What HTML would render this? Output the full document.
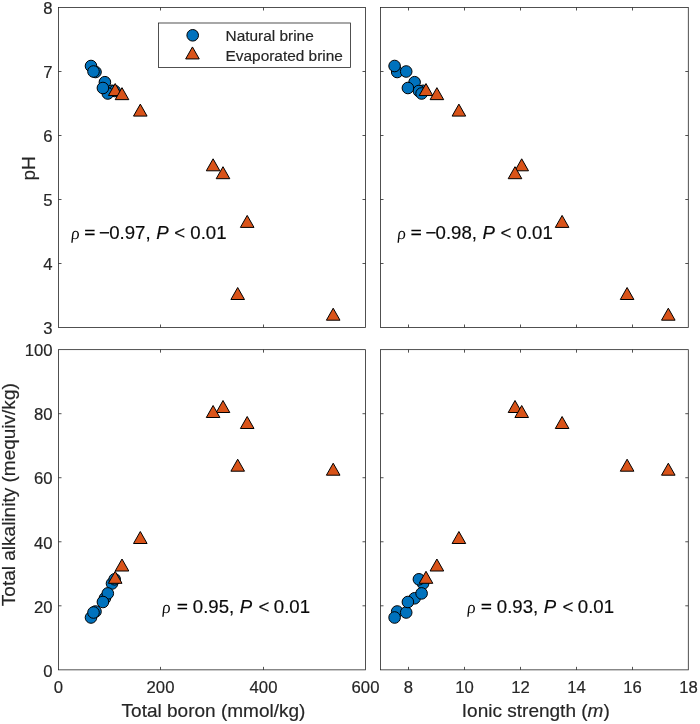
<!DOCTYPE html>
<html><head><meta charset="utf-8"><title>Figure</title>
<style>
html,body{margin:0;padding:0;background:#fff;}
body{width:700px;height:724px;overflow:hidden;font-family:"Liberation Sans",sans-serif;}
svg{display:block;}
text{font-family:"Liberation Sans",sans-serif;fill:#262626;stroke:#262626;stroke-width:0.18;}
.tk{font-size:16.7px;}
.lb{font-size:18.4px;}
.lg{font-size:15.4px;}
.an{font-size:18.6px;fill:#0a0a0a;stroke:#0a0a0a;}
.txt{filter:grayscale(1);}
.rho{font-family:"Liberation Serif",serif;stroke:none;font-size:17.6px;}
.ax{fill:none;stroke:#262626;stroke-width:0.8;}
.c circle{fill:#0072BD;stroke:#000;stroke-width:1.0;}
.t path{fill:#D95319;stroke:#000;stroke-width:1.0;stroke-linejoin:miter;}
</style></head><body>
<svg width="700" height="724" viewBox="0 0 700 724">
<rect width="700" height="724" fill="#fff"/>
<rect class="ax" x="58.5" y="7.5" width="307.00" height="320.00"/>
<path class="ax" d="M160.5 327.5v-3.0M160.5 7.5v3.0M263.5 327.5v-3.0M263.5 7.5v3.0M58.5 71.5h3.0M365.5 71.5h-3.0M58.5 135.5h3.0M365.5 135.5h-3.0M58.5 199.5h3.0M365.5 199.5h-3.0M58.5 263.5h3.0M365.5 263.5h-3.0"/>
<rect class="ax" x="380.5" y="7.5" width="307.80" height="320.00"/>
<path class="ax" d="M408.5 327.5v-3.0M408.5 7.5v3.0M464.5 327.5v-3.0M464.5 7.5v3.0M520.5 327.5v-3.0M520.5 7.5v3.0M576.5 327.5v-3.0M576.5 7.5v3.0M632.5 327.5v-3.0M632.5 7.5v3.0M380.5 71.5h3.0M688.3 71.5h-3.0M380.5 135.5h3.0M688.3 135.5h-3.0M380.5 199.5h3.0M688.3 199.5h-3.0M380.5 263.5h3.0M688.3 263.5h-3.0"/>
<rect class="ax" x="58.5" y="349.65" width="307.00" height="320.20"/>
<path class="ax" d="M160.5 669.85v-3.0M160.5 349.65v3.0M263.5 669.85v-3.0M263.5 349.65v3.0M58.5 413.69h3.0M365.5 413.69h-3.0M58.5 477.73h3.0M365.5 477.73h-3.0M58.5 541.77h3.0M365.5 541.77h-3.0M58.5 605.81h3.0M365.5 605.81h-3.0"/>
<rect class="ax" x="380.5" y="349.65" width="307.80" height="320.20"/>
<path class="ax" d="M408.5 669.85v-3.0M408.5 349.65v3.0M464.5 669.85v-3.0M464.5 349.65v3.0M520.5 669.85v-3.0M520.5 349.65v3.0M576.5 669.85v-3.0M576.5 349.65v3.0M632.5 669.85v-3.0M632.5 349.65v3.0M380.5 413.69h3.0M688.3 413.69h-3.0M380.5 477.73h3.0M688.3 477.73h-3.0M380.5 541.77h3.0M688.3 541.77h-3.0M380.5 605.81h3.0M688.3 605.81h-3.0"/>
<g class="txt">
<text class="tk" text-anchor="end" x="52.6" y="14.2">8</text>
<text class="tk" text-anchor="end" x="52.6" y="78.2">7</text>
<text class="tk" text-anchor="end" x="52.6" y="142.2">6</text>
<text class="tk" text-anchor="end" x="52.6" y="206.2">5</text>
<text class="tk" text-anchor="end" x="52.6" y="270.2">4</text>
<text class="tk" text-anchor="end" x="52.6" y="334.2">3</text>
<text class="tk" text-anchor="end" x="52.6" y="356.3">100</text>
<text class="tk" text-anchor="end" x="52.6" y="420.4">80</text>
<text class="tk" text-anchor="end" x="52.6" y="484.4">60</text>
<text class="tk" text-anchor="end" x="52.6" y="548.5">40</text>
<text class="tk" text-anchor="end" x="52.6" y="612.5">20</text>
<text class="tk" text-anchor="end" x="52.6" y="676.6">0</text>
<text class="tk" text-anchor="middle" x="58.5" y="692.6">0</text>
<text class="tk" text-anchor="middle" x="160.5" y="692.6">200</text>
<text class="tk" text-anchor="middle" x="263.5" y="692.6">400</text>
<text class="tk" text-anchor="middle" x="365.5" y="692.6">600</text>
<text class="tk" text-anchor="middle" x="408.5" y="692.6">8</text>
<text class="tk" text-anchor="middle" x="464.5" y="692.6">10</text>
<text class="tk" text-anchor="middle" x="520.5" y="692.6">12</text>
<text class="tk" text-anchor="middle" x="576.5" y="692.6">14</text>
<text class="tk" text-anchor="middle" x="632.5" y="692.6">16</text>
<text class="tk" text-anchor="middle" x="688.5" y="692.6">18</text>
<text class="lb" text-anchor="middle" transform="translate(213.5 717.4) scale(1.034 1)">Total boron (mmol/kg)</text>
<text class="lb" text-anchor="middle" transform="translate(535.8 717.4) scale(1.034 1)">Ionic strength (<tspan font-style="italic">m</tspan>)</text>
<text class="lb" text-anchor="middle" transform="translate(34.8 168.4) rotate(-90) scale(1.034 1)">pH</text>
<text class="lb" text-anchor="middle" transform="translate(15.4 494.7) rotate(-90) scale(1.034 1)">Total alkalinity (mequiv/kg)</text>
</g>
<g class="c"><circle cx="95.5" cy="72.0" r="5.8"/><circle cx="91.0" cy="66.0" r="5.8"/><circle cx="93.5" cy="71.5" r="5.8"/><circle cx="104.9" cy="82.2" r="5.8"/><circle cx="112.0" cy="90.8" r="5.8"/><circle cx="114.7" cy="91.0" r="5.8"/><circle cx="107.8" cy="93.5" r="5.8"/><circle cx="102.9" cy="88.0" r="5.8"/></g><g class="t"><path d="M115.20 83.55L122.00 95.55H108.40Z"/><path d="M122.00 87.65L128.80 99.65H115.20Z"/><path d="M140.30 104.10L147.10 116.10H133.50Z"/><path d="M213.10 158.80L219.90 170.80H206.30Z"/><path d="M223.00 166.70L229.80 178.70H216.20Z"/><path d="M247.20 215.40L254.00 227.40H240.40Z"/><path d="M237.70 287.50L244.50 299.50H230.90Z"/><path d="M333.20 308.20L340.00 320.20H326.40Z"/></g>
<g class="c"><circle cx="397.2" cy="72.0" r="5.8"/><circle cx="394.6" cy="66.0" r="5.8"/><circle cx="406.2" cy="71.5" r="5.8"/><circle cx="414.6" cy="82.2" r="5.8"/><circle cx="423.1" cy="90.8" r="5.8"/><circle cx="418.9" cy="91.0" r="5.8"/><circle cx="421.6" cy="93.5" r="5.8"/><circle cx="407.9" cy="88.0" r="5.8"/></g><g class="t"><path d="M426.00 83.55L432.80 95.55H419.20Z"/><path d="M436.90 87.65L443.70 99.65H430.10Z"/><path d="M458.90 104.10L465.70 116.10H452.10Z"/><path d="M521.70 158.80L528.50 170.80H514.90Z"/><path d="M515.00 166.70L521.80 178.70H508.20Z"/><path d="M562.10 215.40L568.90 227.40H555.30Z"/><path d="M627.10 287.50L633.90 299.50H620.30Z"/><path d="M668.30 308.20L675.10 320.20H661.50Z"/></g>
<g class="c"><circle cx="95.5" cy="611.5" r="5.8"/><circle cx="91.0" cy="617.5" r="5.8"/><circle cx="93.5" cy="612.5" r="5.8"/><circle cx="104.9" cy="598.3" r="5.8"/><circle cx="112.0" cy="583.5" r="5.8"/><circle cx="114.7" cy="579.3" r="5.8"/><circle cx="107.8" cy="593.4" r="5.8"/><circle cx="102.9" cy="602.0" r="5.8"/></g><g class="t"><path d="M115.20 571.30L122.00 583.30H108.40Z"/><path d="M122.00 559.00L128.80 571.00H115.20Z"/><path d="M140.30 531.50L147.10 543.50H133.50Z"/><path d="M223.00 400.50L229.80 412.50H216.20Z"/><path d="M213.10 405.50L219.90 417.50H206.30Z"/><path d="M247.20 416.50L254.00 428.50H240.40Z"/><path d="M237.70 459.20L244.50 471.20H230.90Z"/><path d="M333.20 463.20L340.00 475.20H326.40Z"/></g>
<g class="c"><circle cx="397.2" cy="611.5" r="5.8"/><circle cx="394.6" cy="617.5" r="5.8"/><circle cx="406.2" cy="612.5" r="5.8"/><circle cx="414.6" cy="598.3" r="5.8"/><circle cx="423.1" cy="583.5" r="5.8"/><circle cx="418.9" cy="579.3" r="5.8"/><circle cx="421.6" cy="593.4" r="5.8"/><circle cx="407.9" cy="602.0" r="5.8"/></g><g class="t"><path d="M426.00 571.30L432.80 583.30H419.20Z"/><path d="M436.90 559.00L443.70 571.00H430.10Z"/><path d="M458.90 531.50L465.70 543.50H452.10Z"/><path d="M515.00 400.50L521.80 412.50H508.20Z"/><path d="M521.70 405.50L528.50 417.50H514.90Z"/><path d="M562.10 416.50L568.90 428.50H555.30Z"/><path d="M627.10 459.20L633.90 471.20H620.30Z"/><path d="M668.30 463.20L675.10 475.20H661.50Z"/></g>
<rect x="158.5" y="23" width="192" height="44.5" fill="#fff" stroke="#262626" stroke-width="0.8"/>
<g class="c"><circle cx="192.7" cy="35.3" r="5.8"/></g><g class="t"><path d="M192.45 46.95L199.25 58.95H185.65Z"/></g>
<g class="txt">
<text class="lg" x="225.6" y="40.8">Natural brine</text>
<text class="lg" x="225.6" y="60.9">Evaporated brine</text>
<text class="an rho" transform="translate(70.4 238.7) skewX(-6)">ρ</text><path d="M85.10 230.45h9.5M85.10 234.35h9.5" stroke="#000" stroke-width="1.65" fill="none"/><text class="an" x="99.5" y="238.7"><tspan dx="-0.4">−</tspan><tspan dx="-0.7">0.97</tspan>, <tspan font-style="italic" dx="0.4">P</tspan> <tspan dx="0.5">&lt;</tspan> <tspan dx="0">0.01</tspan></text>
<text class="an rho" transform="translate(396.7 238.7) skewX(-6)">ρ</text><path d="M411.40 230.45h9.5M411.40 234.35h9.5" stroke="#000" stroke-width="1.65" fill="none"/><text class="an" x="425.8" y="238.7"><tspan dx="-0.4">−</tspan><tspan dx="-0.7">0.98</tspan>, <tspan font-style="italic" dx="0.4">P</tspan> <tspan dx="0.5">&lt;</tspan> <tspan dx="0">0.01</tspan></text>
<text class="an rho" transform="translate(161.6 612.8) skewX(-6)">ρ</text><path d="M177.60 604.55h9.5M177.60 608.45h9.5" stroke="#000" stroke-width="1.65" fill="none"/><text class="an" x="192.8" y="612.8">0.95, <tspan font-style="italic" dx="0.4">P</tspan> <tspan dx="1.3">&lt;</tspan> <tspan dx="-0.8">0.01</tspan></text>
<text class="an rho" transform="translate(466.4 612.8) skewX(-6)">ρ</text><path d="M481.60 604.55h9.5M481.60 608.45h9.5" stroke="#000" stroke-width="1.65" fill="none"/><text class="an" x="496.8" y="612.8">0.93, <tspan font-style="italic" dx="0.4">P</tspan> <tspan dx="1.3">&lt;</tspan> <tspan dx="-0.8">0.01</tspan></text>
</g>
</svg></body></html>
